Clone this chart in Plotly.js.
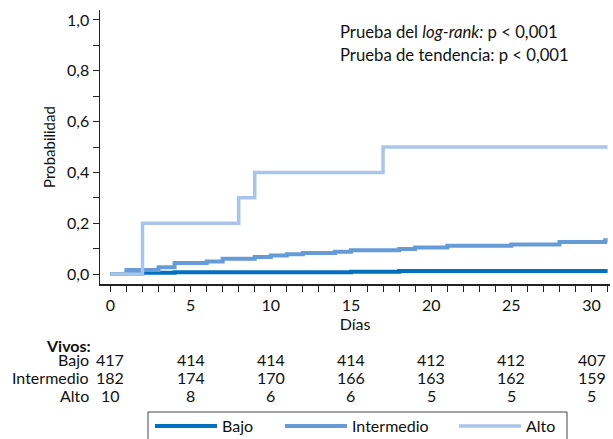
<!DOCTYPE html>
<html>
<head>
<meta charset="utf-8">
<script src="https://cdn.plot.ly/plotly-3.0.1.min.js"></script>
<style>html,body{margin:0;padding:0;background:#fff;}#chart{width:613px;height:439px;}</style>
</head>
<body>
<div id="chart"></div>
<script>
// Data
var bajoX = [0, 1, 2, 4, 15, 18, 31];
var bajoY = [0, 0.0024, 0.0048, 0.0072, 0.0096, 0.012, 0.012];
var interX = [0, 1, 3, 4, 6, 7, 9, 10, 11, 12, 14, 15, 18, 19, 21, 25, 28, 30.85, 31];
var interY = [0, 0.016, 0.027, 0.044, 0.050, 0.060, 0.067, 0.073, 0.078, 0.083, 0.088, 0.094, 0.099, 0.105, 0.111, 0.116, 0.126, 0.133, 0.133];
var altoX = [0, 2, 8, 9, 17, 31];
var altoY = [0, 0.2, 0.3, 0.4, 0.5, 0.5];

var riskDays = [0, 5, 10, 15, 20, 25, 30];
var riskBajo = [417, 414, 414, 414, 412, 412, 407];
var riskInter = [182, 174, 170, 166, 163, 162, 159];
var riskAlto = [10, 8, 6, 6, 5, 5, 5];
var groupNames = ['Bajo', 'Intermedio', 'Alto'];
var colors = ['#0070bf', '#669bd6', '#a9c5e9'];

var FONT = 'Lato, "Open Sans", sans-serif';
var W = 613, H = 439;

var traces = [
  {x: bajoX, y: bajoY, name: groupNames[0], legend: 'legend', mode: 'lines', line: {shape: 'hv', color: colors[0], width: 4}},
  {x: interX, y: interY, name: groupNames[1], legend: 'legend2', mode: 'lines', line: {shape: 'hv', color: colors[1], width: 4}},
  {x: altoX, y: altoY, name: groupNames[2], legend: 'legend3', mode: 'lines', line: {shape: 'hv', color: colors[2], width: 3.5}}
];

var ann = [];
var rows = [riskBajo, riskInter, riskAlto];
var rowShift = [-75, -93, -111];
ann.push({xref: 'paper', yref: 'paper', x: 0, y: 0, xshift: -7, yshift: -61, xanchor: 'right', yanchor: 'middle',
  text: '<b>Vivos:</b>', showarrow: false, font: {family: FONT, size: 16, color: '#111'}});
for (var r = 0; r < 3; r++) {
  ann.push({xref: 'paper', yref: 'paper', x: 0, y: 0, xshift: -9, yshift: rowShift[r], xanchor: 'right', yanchor: 'middle',
    text: groupNames[r], showarrow: false, font: {family: FONT, size: 16, color: '#111'}});
  for (var i = 0; i < riskDays.length; i++) {
    ann.push({xref: 'x', yref: 'paper', x: riskDays[i], y: 0, yshift: rowShift[r], xanchor: 'center', yanchor: 'middle',
      text: String(rows[r][i]), showarrow: false, font: {family: FONT, size: 16, color: '#111'}});
  }
}
ann.push({xref: 'paper', yref: 'paper', x: (338 - 100) / 510, y: 1, yshift: -22, xanchor: 'left', yanchor: 'middle',
  text: 'Prueba del <i>log-rank:</i> p < 0,001', showarrow: false, font: {family: FONT, size: 16.7, color: '#111'}});
ann.push({xref: 'paper', yref: 'paper', x: (338 - 100) / 510, y: 1, yshift: -45, xanchor: 'left', yanchor: 'middle',
  text: 'Prueba de tendencia: p < 0,001', showarrow: false, font: {family: FONT, size: 16.7, color: '#111'}});

function legendAt(px) {
  return {orientation: 'h', xref: 'container', yref: 'container', x: px / W, xanchor: 'left',
    y: 1 - 409 / H, yanchor: 'top', borderwidth: 0, bgcolor: 'rgba(0,0,0,0)',
    font: {family: FONT, size: 16, color: '#111'}, itemwidth: 62};
}

var layout = {
  width: W, height: H,
  margin: {l: 100, r: 3, t: 10, b: 155},
  paper_bgcolor: '#fff', plot_bgcolor: '#fff',
  separators: ',.',
  font: {family: FONT, size: 16, color: '#111'},
  showlegend: true,
  legend: legendAt(150),
  legend2: legendAt(280),
  legend3: legendAt(454),
  shapes: [{type: 'rect', xref: 'paper', yref: 'paper',
    x0: (148 - 100) / 510, x1: (567 - 100) / 510, y0: -(412 - 284) / 274, y1: -(448 - 284) / 274,
    line: {color: '#444', width: 1}, fillcolor: 'rgba(0,0,0,0)', layer: 'above'}],
  xaxis: {
    range: [-0.65, 31.15], tickmode: 'linear', tick0: 0, dtick: 5,
    ticks: 'outside', ticklen: 6, tickwidth: 1, tickcolor: '#222',
    minor: {dtick: 1, tick0: 0, ticks: 'outside', ticklen: 6, tickwidth: 1, tickcolor: '#222', showgrid: false},
    showline: true, linecolor: '#222', linewidth: 1.5, showgrid: false, zeroline: false,
    tickfont: {family: FONT, size: 16, color: '#111'},
    title: {text: 'Días', font: {family: FONT, size: 16, color: '#111'}, standoff: 0}
  },
  yaxis: {
    range: [-0.039, 1.039], tickmode: 'linear', tick0: 0, dtick: 0.2, tickformat: '.1f',
    ticks: 'outside', ticklen: 6, tickwidth: 1, tickcolor: '#222',
    minor: {dtick: 0.1, tick0: 0, ticks: 'outside', ticklen: 6, tickwidth: 1, tickcolor: '#222', showgrid: false},
    showline: true, linecolor: '#222', linewidth: 1.5, showgrid: false, zeroline: false,
    tickfont: {family: FONT, size: 16, color: '#111'},
    title: {text: 'Probabilidad', font: {family: FONT, size: 15, color: '#111'}, standoff: 8}
  },
  annotations: ann
};

Plotly.newPlot('chart', traces, layout, {displayModeBar: false, staticPlot: true});
</script>
</body>
</html>
